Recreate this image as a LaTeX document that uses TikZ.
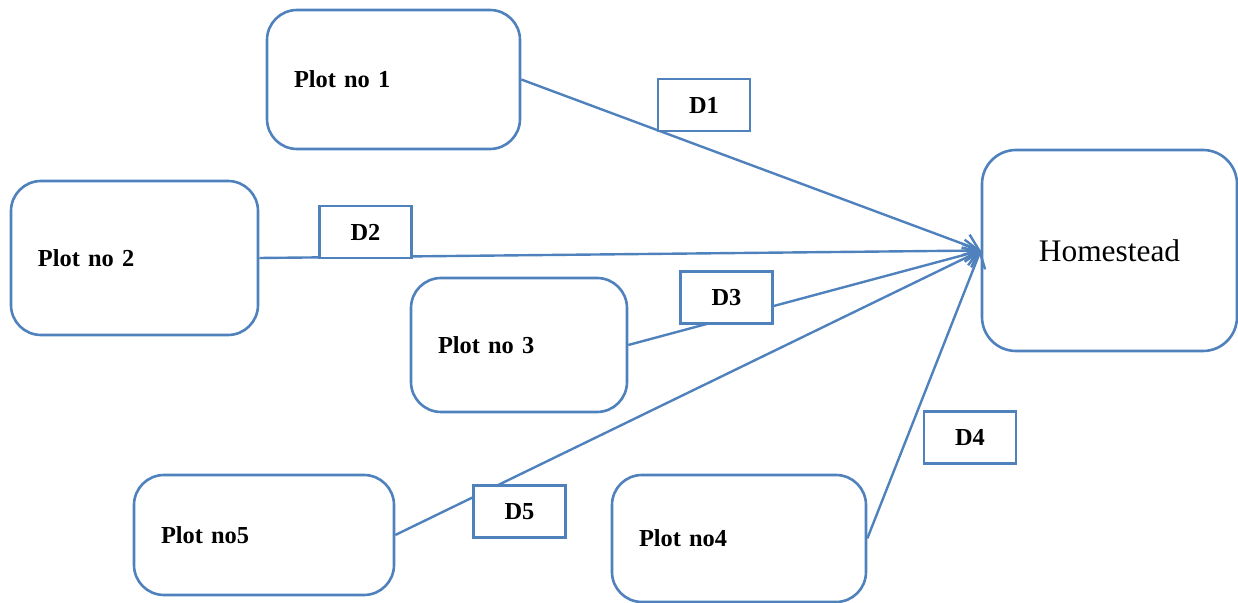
\documentclass[tikz,border=0pt]{standalone}
\usepackage{fontspec}
\setmainfont{Liberation Serif}
\usepackage{tikz}
\usetikzlibrary{arrows.meta, positioning}
\definecolor{officeblue}{HTML}{4F81BD}
\tikzset{plot node/.style={rectangle, rounded corners=15pt, draw=officeblue, line width=1.3pt, fill=white, align=left, inner xsep=13.5pt, font={\bfseries\fontsize{12.2}{14}\selectfont\spaceskip 2.3pt\relax}},
  home node/.style={rectangle, rounded corners=17pt, draw=officeblue, line width=1.3pt, fill=white, font=\fontsize{15.7}{18}\selectfont},
  distance node/.style={rectangle, draw=officeblue, line width=1.3pt, fill=white, minimum width=46pt, minimum height=26pt, font=\bfseries\fontsize{12.2}{14}\selectfont},
  arrow/.style={-{Straight Barb[length=7pt, width=11pt]}, draw=officeblue, line width=1.2pt}
}
\begin{document}
\begin{tikzpicture}[x=0.5pt, y=-0.5pt]
          \useasboundingbox (0,0) rectangle (1238,603);
          % Plots
          \node[plot node, text width=99.5pt, minimum height=69.5pt] (plot1) at (393.5, 79.5) {Plot no 1};
          \node[plot node, text width=96.5pt, minimum height=77pt] (plot2) at (134.5, 258) {Plot no 2};
          \node[plot node, text width=81pt, minimum height=67pt] (plot3) at (519, 345) {Plot no 3};
          \node[plot node, text width=103pt, minimum height=60pt] (plot5) at (264, 535) {Plot no5};
          \node[plot node, text width=100pt, minimum height=63.5pt] (plot4) at (739, 538.5) {Plot no4};
          % Homestead
          \node[home node, minimum width=127.5pt, minimum height=100.5pt] (home) at (1109.5, 250.5) {Homestead};
          % Connections
          \draw[arrow] (plot1.east) -- (home.west);
          \draw[arrow] (plot2.east) -- (home.west);
          \draw[arrow] (plot3.east) -- (home.west);
          \draw[arrow] (plot4.east) -- (home.west);
          \draw[arrow] (plot5.east) -- (home.west);
          % Distance labels
          \node[distance node] (d1) at (704, 105) {D1};
          \node[distance node] (d2) at (365.5, 232) {D2};
          \node[distance node] (d3) at (726.5, 297.5) {D3};
          \node[distance node] (d4) at (970, 437.5) {D4};
          \node[distance node] (d5) at (519.5, 511.5) {D5};
        \end{tikzpicture}
\end{document}
